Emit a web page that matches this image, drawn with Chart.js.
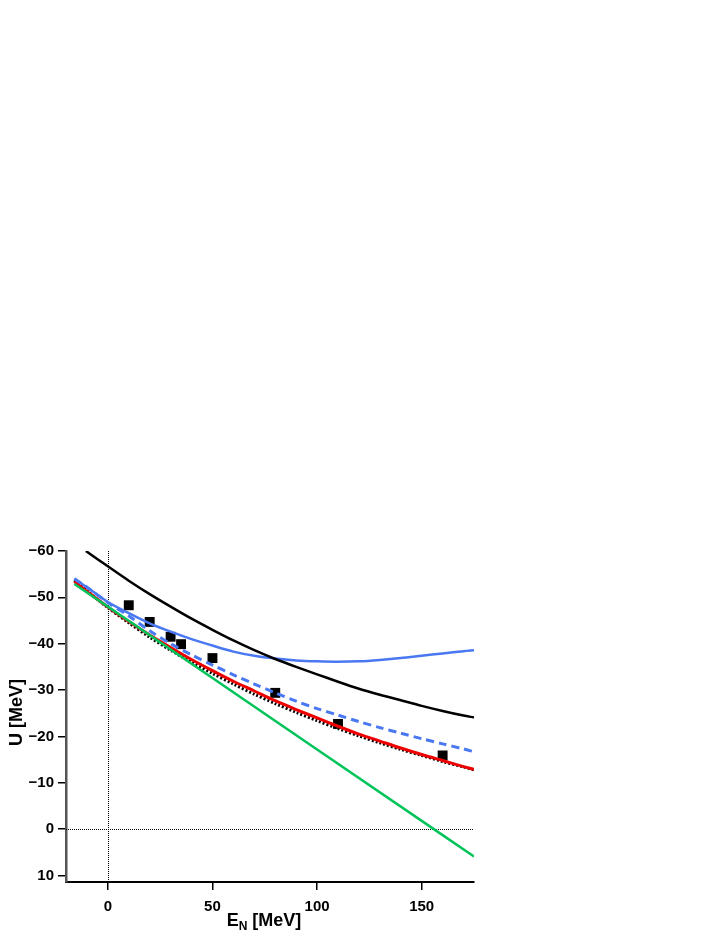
<!DOCTYPE html>
<html>
<head>
<meta charset="utf-8">
<script src="https://cdn.jsdelivr.net/npm/chart.js@4/dist/chart.umd.min.js"></script>
<style>
  html, body { margin: 0; padding: 0; background: #fff; }
  canvas { display: block; }
</style>
</head>
<body>
<canvas id="chart" width="723" height="935"></canvas>
<script>
// 轴刻度
const xTicks = [0, 50, 100, 150]
const yTicks = [-60, -50, -40, -30, -20, -10, 0, 10]

// 曲线横坐标 E_N [MeV]
const xCurve = [-16, -10, 0, 10, 20, 30, 40, 50, 60, 70, 80, 90, 100, 110, 120, 130, 140, 150, 160, 170, 175]
const xBlack = [-10.5, 0, 10, 20, 30, 40, 50, 60, 70, 80, 90, 100, 110, 120, 130, 140, 150, 160, 170, 175]

// 各曲线 U [MeV]
const blackU = [-60.0, -56.7, -53.6, -50.7, -48.0, -45.4, -43.0, -40.7, -38.6, -36.7, -35.0, -33.4, -31.8, -30.3, -29.0, -27.8, -26.6, -25.5, -24.5, -24.1]
const blueSolidU = [-54.0, -52.2, -49.0, -46.6, -44.4, -42.6, -41.0, -39.6, -38.3, -37.4, -36.8, -36.4, -36.2, -36.1, -36.2, -36.5, -36.9, -37.4, -37.9, -38.4, -38.6]
const blueDashU = [-54.0, -52.2, -48.9, -46.0, -42.8, -40.0, -37.6, -35.4, -33.3, -31.3, -29.4, -27.6, -26.0, -24.6, -23.2, -21.9, -20.7, -19.5, -18.4, -17.3, -16.7]
const redU = [-53.4, -51.3, -47.9, -44.8, -41.9, -39.2, -36.6, -34.2, -31.9, -29.8, -27.7, -25.8, -24.0, -22.2, -20.5, -19.0, -17.5, -16.1, -14.8, -13.5, -12.9]
const dottedU = [-53.7, -51.4, -47.8, -44.5, -41.4, -38.6, -36.0, -33.6, -31.3, -29.1, -27.1, -25.2, -23.4, -21.7, -20.1, -18.6, -17.2, -15.9, -14.6, -13.4, -12.8]

// 直线（绿色）
const greenX = [-16, 0, 50, 100, 155.8, 175]
const greenU = [-52.9, -48.0, -32.6, -17.2, 0.0, 5.9]

// 实验数据点
const dataX = [10, 20, 30, 35, 50, 80, 110, 160]
const dataU = [-48.3, -44.7, -41.5, -39.9, -36.9, -29.4, -22.7, -15.9]

const pts = (xs, ys) => xs.map((x, i) => ({ x: x, y: ys[i] }))

const FONT = '"Liberation Sans", Arial, sans-serif'

// 零线 + 轴标题
const extras = {
    id: 'extras',
    beforeDatasetsDraw(chart) {
        const { ctx, chartArea: a, scales: { x, y } } = chart
        ctx.save()
        ctx.strokeStyle = '#000'
        ctx.lineWidth = 1
        ctx.setLineDash([1, 1])
        const x0 = Math.round(x.getPixelForValue(0)) + 0.5
        const y0 = Math.round(y.getPixelForValue(0)) + 0.5
        ctx.beginPath()
        ctx.moveTo(x0, a.top)
        ctx.lineTo(x0, a.bottom)
        ctx.moveTo(a.left, y0)
        ctx.lineTo(a.right, y0)
        ctx.stroke()
        ctx.restore()
    },
    afterDraw(chart) {
        const { ctx, chartArea: a } = chart
        ctx.save()
        ctx.fillStyle = '#000'
        ctx.textBaseline = 'alphabetic'
        // x 轴标题 E_N [MeV]
        ctx.font = 'bold 18px ' + FONT
        const w1 = ctx.measureText('E').width
        ctx.font = 'bold 12px ' + FONT
        const w2 = ctx.measureText('N').width
        ctx.font = 'bold 18px ' + FONT
        const w3 = ctx.measureText(' [MeV]').width
        let sx = 264 - (w1 + w2 + w3) / 2
        const by = 926
        ctx.textAlign = 'left'
        ctx.fillText('E', sx, by)
        ctx.font = 'bold 12px ' + FONT
        ctx.fillText('N', sx + w1, by + 4)
        ctx.font = 'bold 18px ' + FONT
        ctx.fillText(' [MeV]', sx + w1 + w2, by)
        // y 轴标题
        ctx.translate(22, (a.top + a.bottom) / 2 - 4)
        ctx.rotate(-Math.PI / 2)
        ctx.textAlign = 'center'
        ctx.fillText('U [MeV]', 0, 0)
        ctx.restore()
    }
}

const lineSet = (data, color, extra) => Object.assign({
    data: data,
    showLine: true,
    borderColor: color,
    borderWidth: 2.5,
    pointRadius: 0,
    tension: 0.3,
    fill: false
}, extra || {})

new Chart(document.getElementById('chart'), {
    type: 'scatter',
    data: {
        datasets: [
            lineSet(pts(greenX, greenU), '#00c45a', { tension: 0 }),
            lineSet(pts(xBlack, blackU), '#000000'),
            lineSet(pts(xCurve, blueSolidU), '#4a78f2'),
            lineSet(pts(xCurve, blueDashU), '#4a78f2', { borderDash: [8, 5], borderWidth: 3 }),
            lineSet(pts(xCurve, redU), '#ee0000', { borderWidth: 3 }),
            lineSet(pts(xCurve, dottedU), '#000000', { borderDash: [2, 2], borderWidth: 3 }),
            {
                data: pts(dataX, dataU),
                showLine: false,
                pointStyle: 'rect',
                pointRadius: 7,
                pointHoverRadius: 7,
                backgroundColor: '#000',
                borderWidth: 0
            }
        ]
    },
    options: {
        responsive: false,
        animation: false,
        devicePixelRatio: 1,
        layout: { padding: { left: 0, top: 551, right: 249, bottom: 0 } },
        plugins: { legend: { display: false }, tooltip: { enabled: false } },
        scales: {
            x: {
                type: 'linear',
                min: -20,
                max: 175,
                afterFit(scale) { scale.height = 53 },
                afterBuildTicks(scale) { scale.ticks = xTicks.map(v => ({ value: v })) },
                grid: { drawOnChartArea: false, drawTicks: true, tickLength: 8, color: '#000', lineWidth: 1.5 },
                border: { color: '#000', width: 2 },
                ticks: { color: '#000', padding: 8, font: { family: FONT, size: 15, weight: 'bold' } }
            },
            y: {
                type: 'linear',
                reverse: true,
                min: -60,
                max: 11.4,
                afterFit(scale) { scale.width = 66 },
                afterBuildTicks(scale) { scale.ticks = yTicks.map(v => ({ value: v })) },
                grid: { drawOnChartArea: false, drawTicks: true, tickLength: 8, color: '#000', lineWidth: 1.5 },
                border: { color: '#555', width: 2.5 },
                ticks: {
                    color: '#000',
                    padding: 4,
                    font: { family: FONT, size: 15, weight: 'bold' },
                    callback: v => v < 0 ? '\u2212' + Math.abs(v) : String(v)
                }
            }
        }
    },
    plugins: [extras]
})
</script>
</body>
</html>
